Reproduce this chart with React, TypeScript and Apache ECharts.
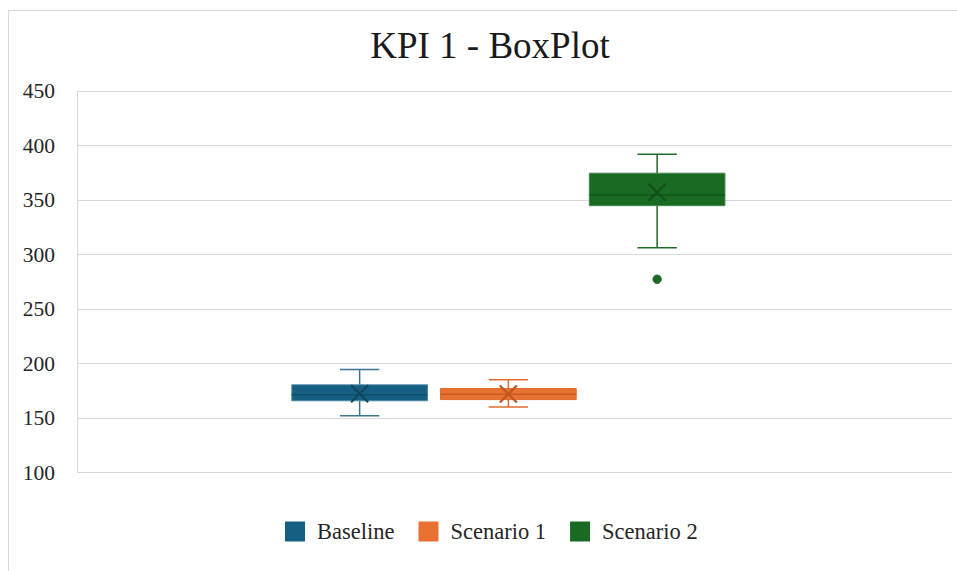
import React, { useEffect, useRef } from "react";
import * as echarts from "echarts";

// Series shown in the chart, in drawing order
const seriesNames = ["Baseline", "Scenario 1", "Scenario 2"];
const categories = ["KPI 1"];

// Five-number summaries: [min, Q1, median, Q3, max]
const baselineStats = [152.0, 165.8, 171.3, 180.4, 194.5];
const scenario1Stats = [160.2, 166.9, 171.9, 177.0, 185.0];
const scenario2Stats = [306.3, 344.8, 354.7, 374.6, 392.0];

// Means (drawn as an X marker)
const baselineMean = 172.2;
const scenario1Mean = 172.0;
const scenario2Mean = 357.1;

// Outliers beyond the whiskers
const baselineOutliers: number[] = [];
const scenario1Outliers: number[] = [];
const scenario2Outliers = [277.3];

// Value axis ticks
const yMin = 100;
const yMax = 450;
const yStep = 50;

const palette = [
  { fill: "#156082", border: "#4d86a2", whisker: "#3b7592", median: "#0f4c68", mean: "#0e465f" },
  { fill: "#E97132", border: "#dd6a2c", whisker: "#e06c2e", median: "#c95b22", mean: "#c2561d" },
  { fill: "#196B24", border: "#47874f", whisker: "#1f6a29", median: "#13541b", mean: "#124f19" },
];

// Horizontal layout of the boxes inside the single category band
const SLOT_RATIO = 0.17; // distance between box centres
const BOX_RATIO = 0.155; // box width
const CAP_RATIO = 0.045; // whisker cap width
const SHIFT_RATIO = -0.007; // whole group shift
const MEAN_HALF = 8.5;

const FONT = "'Liberation Serif', 'Times New Roman', serif";

function boxCenter(api: any, slot: number) {
  const band = api.size([1, 0])[0];
  const base = api.coord([api.value(0), yMin])[0];
  return { cx: base + band * (SHIFT_RATIO + (slot - 1) * SLOT_RATIO), band };
}

function makeBoxSeries(idx: number, stats: number[], mean: number) {
  const c = palette[idx];
  return {
    type: "custom",
    name: seriesNames[idx],
    itemStyle: { color: c.fill, borderColor: c.border },
    encode: { x: 0, y: [1, 2, 3, 4, 5, 6] },
    data: [[0, ...stats, mean]],
    renderItem: (_params: any, api: any) => {
      const { cx, band } = boxCenter(api, idx);
      const y = (v: number) => api.coord([api.value(0), v])[1];
      const yMinV = y(api.value(1));
      const yQ1 = y(api.value(2));
      const yMed = y(api.value(3));
      const yQ3 = y(api.value(4));
      const yMaxV = y(api.value(5));
      const yMean = y(api.value(6));
      const bw = band * BOX_RATIO;
      const cw = band * CAP_RATIO;
      const wStyle = { stroke: c.whisker, lineWidth: 1.5 };
      return {
        type: "group",
        children: [
          { type: "line", shape: { x1: cx, y1: yMaxV, x2: cx, y2: yQ3 }, style: wStyle },
          { type: "line", shape: { x1: cx, y1: yQ1, x2: cx, y2: yMinV }, style: wStyle },
          { type: "line", shape: { x1: cx - cw / 2, y1: yMaxV, x2: cx + cw / 2, y2: yMaxV }, style: wStyle },
          { type: "line", shape: { x1: cx - cw / 2, y1: yMinV, x2: cx + cw / 2, y2: yMinV }, style: wStyle },
          {
            type: "rect",
            shape: { x: cx - bw / 2, y: yQ3, width: bw, height: yQ1 - yQ3 },
            style: { fill: c.fill, stroke: c.border, lineWidth: 1 },
          },
          {
            type: "line",
            shape: { x1: cx - bw / 2, y1: yMed, x2: cx + bw / 2, y2: yMed },
            style: { stroke: c.median, lineWidth: 1.5 },
          },
          {
            type: "line",
            shape: { x1: cx - MEAN_HALF, y1: yMean - MEAN_HALF, x2: cx + MEAN_HALF, y2: yMean + MEAN_HALF },
            style: { stroke: c.mean, lineWidth: 2.2 },
          },
          {
            type: "line",
            shape: { x1: cx - MEAN_HALF, y1: yMean + MEAN_HALF, x2: cx + MEAN_HALF, y2: yMean - MEAN_HALF },
            style: { stroke: c.mean, lineWidth: 2.2 },
          },
        ],
      };
    },
    z: 3,
  };
}

function makeOutlierSeries(idx: number, values: number[]) {
  const c = palette[idx];
  return {
    type: "custom",
    name: seriesNames[idx] + " outliers",
    encode: { x: 0, y: 1 },
    data: values.map((v) => [0, v]),
    renderItem: (_params: any, api: any) => {
      const { cx } = boxCenter(api, idx);
      const cy = api.coord([api.value(0), api.value(1)])[1];
      return {
        type: "circle",
        shape: { cx, cy, r: 4.2 },
        style: { fill: c.fill, stroke: c.median, lineWidth: 0.8 },
      };
    },
    z: 4,
  };
}

export default function App() {
  const ref = useRef<HTMLDivElement>(null);

  useEffect(() => {
    if (!ref.current) return;
    const chart = echarts.init(ref.current, undefined, { renderer: "svg" });
    chart.setOption({
      animation: false,
      backgroundColor: "#ffffff",
      title: {
        text: "KPI 1 - BoxPlot",
        left: 485,
        textAlign: "center",
        top: 22,
        textStyle: { fontFamily: FONT, fontSize: 37, fontWeight: "normal", color: "#1a1a1a" },
      },
      graphic: [
        {
          type: "rect",
          shape: { x: 8.5, y: 10.5, width: 1000, height: 700 },
          style: { fill: "none", stroke: "#d9d9d9", lineWidth: 1 },
          silent: true,
          z: -1,
        },
      ],
      legend: {
        data: seriesNames,
        left: 285,
        top: 520,
        padding: 0,
        itemWidth: 20,
        itemHeight: 20,
        itemGap: 24,
        icon: "rect",
        textStyle: { fontFamily: FONT, fontSize: 22.5, color: "#262626", padding: [0, 0, 0, 7] },
      },
      grid: { left: 77, right: 5, top: 91, bottom: 98.5 },
      xAxis: {
        type: "category",
        data: categories,
        axisLine: { show: false },
        axisTick: { show: false },
        axisLabel: { show: false },
        splitLine: { show: false },
      },
      yAxis: {
        type: "value",
        min: yMin,
        max: yMax,
        interval: yStep,
        axisLine: { show: true, lineStyle: { color: "#d9d9d9", width: 1 } },
        axisTick: { show: false },
        axisLabel: {
          fontFamily: FONT,
          fontSize: 21.5,
          color: "#262626",
          margin: 22,
          padding: [5, 0, 0, 0],
        },
        splitLine: { lineStyle: { color: "#d9d9d9", width: 1 } },
      },
      series: [
        makeBoxSeries(0, baselineStats, baselineMean),
        makeBoxSeries(1, scenario1Stats, scenario1Mean),
        makeBoxSeries(2, scenario2Stats, scenario2Mean),
        makeOutlierSeries(0, baselineOutliers),
        makeOutlierSeries(1, scenario1Outliers),
        makeOutlierSeries(2, scenario2Outliers),
      ],
    });
    return () => chart.dispose();
  }, []);

  return (
    <div
      ref={ref}
      style={{ position: "fixed", left: 0, top: 0, width: 957, height: 571 }}
    />
  );
}
